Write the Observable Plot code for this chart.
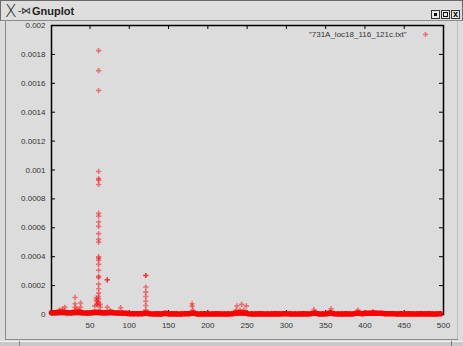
<!DOCTYPE html>
<html><head><meta charset="utf-8">
<script src="https://cdn.jsdelivr.net/npm/d3@7"></script>
<script src="https://cdn.jsdelivr.net/npm/@observablehq/plot@0.6"></script>
<style>
html,body{margin:0;padding:0;background:#dcdcdc;}
#win{position:relative;width:463px;height:346px;overflow:hidden;background:#dcdcdc;font-family:"Liberation Sans",Arial,sans-serif;}
#chart{position:absolute;left:0;top:0;}
#title{position:absolute;left:0;top:0;width:461px;height:19px;border:1px solid #6a6a6a;border-bottom:1px solid #8a8a8a;background:#dedede;}
#title .x{position:absolute;left:4px;top:0px;font-size:17px;font-family:"DejaVu Sans";font-weight:200;color:#222;line-height:20px;}
#title .ic{position:absolute;left:17px;top:1px;font-size:10px;color:#333;line-height:18px;}
#title .t{position:absolute;left:31px;top:1px;font-size:11px;font-weight:bold;color:#222;line-height:18px;}
.btn{position:absolute;top:9px;width:7px;height:7px;border:1px solid #333;background:#e8e8e8;}
.btn i{position:absolute;left:2px;top:2px;width:3px;height:3px;background:#111;}
#lb{position:absolute;left:5px;top:21px;width:1px;height:318px;background:#8a8a8a;}
#rb{position:absolute;left:457px;top:21px;width:1px;height:318px;background:#bdbdbd;}
#bb{position:absolute;left:5px;top:339px;width:453px;height:1px;background:#8a8a8a;}
#bot{position:absolute;left:0;top:341px;width:463px;height:5px;background:#c8c8c8;border-top:1px solid #f4f4f4;}
#bot2{position:absolute;left:451px;top:341px;width:1px;height:5px;background:#777;}
#bot3{position:absolute;left:19px;top:341px;width:1px;height:5px;background:#888;}
</style></head><body>
<div id="win">
<div id="chart"></div>
<div id="title"><span class="x">X</span><span class="ic">-⋈</span><span class="t">Gnuplot</span>
<div class="btn" style="left:430px"><i></i></div>
<div class="btn" style="left:440px;"><i style="left:1px;top:1px;width:3px;height:3px;background:#e8e8e8;border:1px solid #111"></i></div>
<div class="btn" style="left:450px;font-size:9px;line-height:7px;text-align:center;font-weight:bold">x</div>
</div>
<div id="lb"></div><div id="rb"></div><div id="bb"></div><div id="bot"></div><div id="bot2"></div><div id="bot3"></div>
</div>
<script>
const seriesName = '"731A_loc18_116_121c.txt"';
const xTicks = [50, 100, 150, 200, 250, 300, 350, 400, 450, 500];
const yTicks = [0, 0.0002, 0.0004, 0.0006, 0.0008, 0.001, 0.0012, 0.0014, 0.0016, 0.0018, 0.002];

// dense baseline: one value per 5-unit bin, starting at x = 1
const baseStart = 1, baseStep = 5;
const baseY = [
  0.000012, 0.000012, 0.000015, 0.000015, 0.000012, 0.000012, 0.000015, 0.000015, 0.000012, 0.00001,
  0.000012, 0.000015, 0.000015, 0.000012, 0.000012, 0.000015, 0.000012, 0.00001, 0.00001, 0.000008,
  0.000005, 0.000005, 0.000006, 0.000005, 0.00001, 0.000005, 0.000004, 0.000005, 0.000004, 0.000008,
  0.000004, 0.000005, 0.000004, 0.000004, 0.000005, 0.000005, 0.00001, 0.000004, 0.000004, 0.000005,
  0.000004, 0.000004, 0.000005, 0.000004, 0.000004, 0.000004, 0.000005, 0.00001, 0.000012, 0.00001,
  0.000006, 0.000004, 0.000004, 0.000005, 0.000004, 0.000004, 0.000004, 0.000006, 0.000004, 0.000005,
  0.000006, 0.000004, 0.000004, 0.000004, 0.000005, 0.000004, 0.000006, 0.00001, 0.000004, 0.000004,
  0.000005, 0.00001, 0.000005, 0.000004, 0.000004, 0.000005, 0.000004, 0.000006, 0.00001, 0.000006,
  0.000008, 0.000008, 0.00001, 0.000008, 0.000008, 0.000006, 0.000005, 0.000005, 0.000004, 0.000005,
  0.000004, 0.000005, 0.000004, 0.000004, 0.000005, 0.000004, 0.000005, 0.000004, 0.000004, 0.000005
];

// isolated points above the baseline
const peakX = [
  61, 61, 61, 61, 61, 61, 61, 61, 61, 61, 61, 61, 61, 61, 61, 61, 61, 61, 61, 61, 61, 61, 61, 61, 61, 61, 61,
  58, 58, 59, 59, 63, 63, 56, 60,
  72, 72, 72,
  121, 121, 121, 121, 121, 121, 121, 121,
  31, 31, 31, 33, 38, 38, 36, 18, 11, 15, 89, 76,
  180, 180, 181, 237, 243, 249, 236, 241, 246, 335, 357, 356, 391, 410
];
const peakY = [
  0.001826, 0.001688, 0.00155, 0.00099, 0.00094, 0.00093, 0.0009, 0.0007, 0.00068, 0.00064, 0.00061, 0.00056, 0.00052, 0.0005,
  0.0004, 0.00039, 0.000375, 0.000347, 0.000306, 0.000264, 0.000255, 0.00021, 0.000178, 0.000148, 0.000125, 0.000109, 0.000085,
  0.000116, 0.0001, 0.00009, 0.00007, 0.00007, 0.00005, 0.00006, 0.00007,
  0.00024, 0.00024, 0.00005,
  0.00027, 0.00027, 0.00019, 0.000155, 0.000125, 0.000092, 0.0000625, 0.00003,
  0.000118, 0.000074, 0.00005, 0.00004, 0.00008, 0.00005, 0.00003, 0.00005, 0.00003, 0.00004, 0.000047, 0.000025,
  0.000074, 0.000058, 0.00003, 0.00006, 0.00007, 0.00006, 0.00003, 0.00003, 0.00003, 0.000035, 0.00004, 0.00002, 0.00003, 0.00002
];

const base = baseY.map((v, i) => ({x: baseStart + i * baseStep, y: v}));
const peaks = peakX.map((x, i) => ({x, y: peakY[i]}));
const red = "#ff0000";
const W = 463, H = 346, mL = 51, mR = 20, mT = 25, mB = 32;
const pw = W - mL - mR, ph = H - mT - mB, tk = 4;
const pt = {symbol: "plus", r: 1.8, stroke: red, strokeWidth: 1.6, strokeOpacity: 0.5};

const chart = Plot.plot({
  width: W, height: H, marginLeft: mL, marginRight: mR, marginTop: mT, marginBottom: mB,
  style: {background: "transparent", fontFamily: "Liberation Sans, Arial, sans-serif", fontSize: "8px", color: "#333"},
  x: {domain: [1, 500]},
  y: {domain: [0, 0.002]},
  marks: [
    Plot.tickY(yTicks, {y: d => d, insetRight: pw - tk, stroke: "#000"}),
    Plot.tickY(yTicks, {y: d => d, insetLeft: pw - tk, stroke: "#000"}),
    Plot.tickX(xTicks, {x: d => d, insetTop: ph - tk, stroke: "#000"}),
    Plot.tickX(xTicks, {x: d => d, insetBottom: ph - tk, stroke: "#000"}),
    Plot.axisY({ticks: yTicks, tickSize: 0, tickPadding: 6, tickFormat: d => String(d), label: null}),
    Plot.axisX({ticks: xTicks, tickSize: 0, tickPadding: 8, tickFormat: d => String(d), label: null}),
    Plot.frame({stroke: "#000", strokeWidth: 1.5}),
    Plot.line(base, {x: "x", y: "y", stroke: red, strokeWidth: 5.5}),
    Plot.dot(base, {x: "x", y: "y", ...pt, strokeOpacity: 1}),
    Plot.dot(peaks, {x: "x", y: "y", ...pt}),
    Plot.text([seriesName], {frameAnchor: "top-right", dx: -37, dy: 9, lineAnchor: "middle", textAnchor: "end", text: d => d, fill: "#333"}),
    Plot.dot([seriesName], {frameAnchor: "top-right", dx: -18, dy: 9, ...pt})
  ]
});
document.getElementById("chart").appendChild(chart);
</script>
</body></html>
